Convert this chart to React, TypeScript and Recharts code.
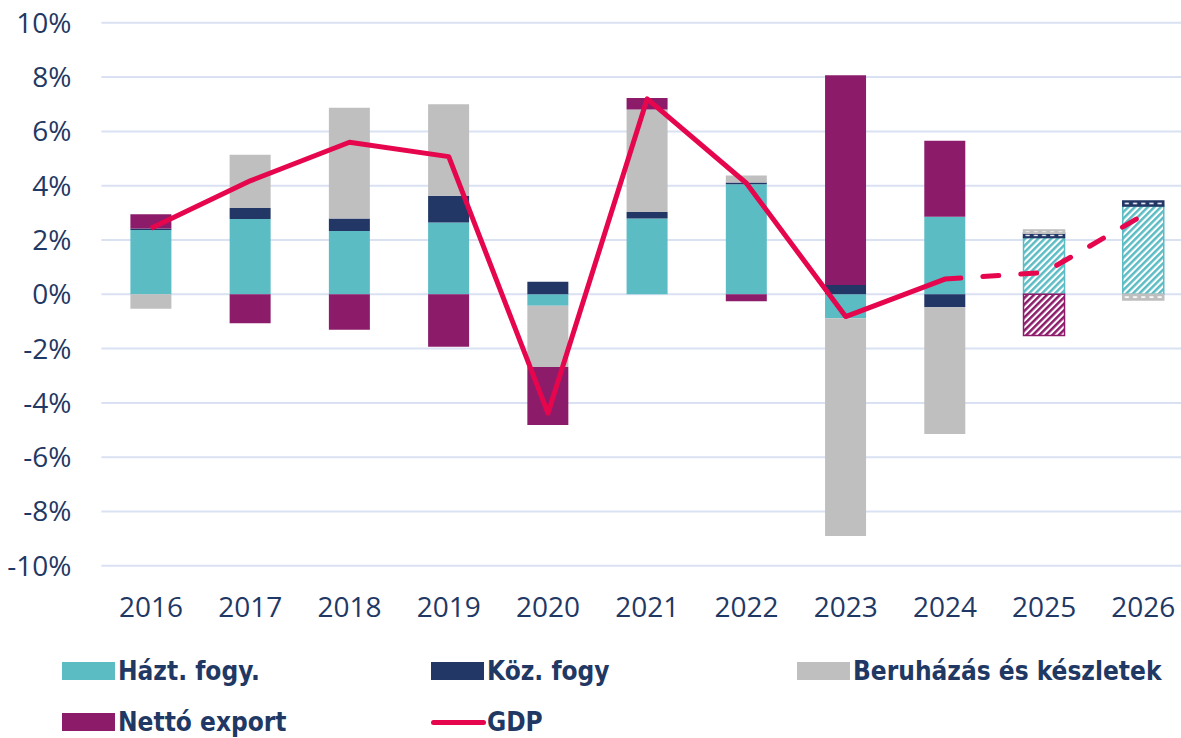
import React from "react";
import {
  ComposedChart,
  Bar,
  Line,
  XAxis,
  YAxis,
  CartesianGrid,
  Cell,
} from "recharts";

// ─── Data (percentage points) ─────────────────────────────────────────────────

const years = ["2016", "2017", "2018", "2019", "2020", "2021", "2022", "2023", "2024", "2025", "2026"];
const forecastYears = ["2025", "2026"];

const haztFogy = [2.37, 2.77, 2.33, 2.64, -0.42, 2.79, 4.05, -0.88, 2.86, 2.09, 3.25];
const kozFogy = [0.05, 0.41, 0.46, 0.99, 0.46, 0.24, 0.07, 0.34, -0.48, 0.16, 0.19];
const beruhazas = [-0.53, 1.96, 4.08, 3.37, -2.26, 3.78, 0.26, -8.02, -4.67, 0.12, -0.21];
const nettoExport = [0.53, -1.07, -1.31, -1.93, -2.13, 0.42, -0.26, 7.73, 2.8, -1.52, 0];
const gdpActual = [2.43, 4.18, 5.6, 5.07, -4.38, 7.2, 4.09, -0.82, 0.56, null, null];
const gdpForecast = [null, null, null, null, null, null, null, null, 0.56, 0.8, 2.92];

const yTicks = [-10, -8, -6, -4, -2, 0, 2, 4, 6, 8, 10];

const data = years.map((year, i) => ({
  year,
  hazt: haztFogy[i],
  koz: kozFogy[i],
  beru: beruhazas[i],
  netto: nettoExport[i],
  gdp: gdpActual[i],
  gdpF: gdpForecast[i],
}));

// ─── Styling ──────────────────────────────────────────────────────────────────

const TEAL = "#5BBCC4";
const NAVY = "#223766";
const GRAY = "#BFBFBF";
const PURPLE = "#8C1C6A";
const RED = "#E6064E";
const TEXT = "#1F3864";

const series = [
  { key: "hazt", color: TEAL, pat: "hatchTeal", kind: "diag" },
  { key: "koz", color: NAVY, pat: "hatchNavy", kind: "dash" },
  { key: "beru", color: GRAY, pat: "hatchGray", kind: "dash" },
  { key: "netto", color: PURPLE, pat: "hatchPurple", kind: "diag" },
];

// diagonal stripes for the big forecast segments
function Hatch({ id, color }: { id: string; color: string }) {
  return (
    <pattern id={id} patternUnits="userSpaceOnUse" width="4.6" height="4.6" patternTransform="rotate(45)">
      <rect width="4.6" height="4.6" fill="#fff" />
      <rect width="2.5" height="4.6" fill={color} />
    </pattern>
  );
}

// solid with white dashes through the middle, for the thin forecast segments
function DashFill({ id, color }: { id: string; color: string }) {
  return (
    <pattern id={id} patternUnits="objectBoundingBox" patternContentUnits="objectBoundingBox" width="0.2" height="1">
      <rect width="0.2" height="1" fill={color} />
      <rect x="0.05" y="0.35" width="0.1" height="0.3" fill="#fff" />
    </pattern>
  );
}

const legendFont: React.CSSProperties = {
  fontFamily: "'DejaVu Sans Condensed', 'DejaVu Sans', sans-serif",
  fontStretch: "condensed",
  fontWeight: 700,
  fontSize: 26,
  color: TEXT,
  position: "absolute",
  whiteSpace: "nowrap",
  lineHeight: "30px",
};

function LegendItem({ x, y, color, label, line }: { x: number; y: number; color: string; label: string; line?: boolean }) {
  return (
    <>
      {line ? (
        <div style={{ position: "absolute", left: x, top: y - 2.5, width: 55, height: 5, borderRadius: 3, background: color }} />
      ) : (
        <div style={{ position: "absolute", left: x, top: y - 9, width: 53, height: 18, background: color }} />
      )}
      <div style={{ ...legendFont, left: x + 56, top: y - 15 }}>{label}</div>
    </>
  );
}

export default function App() {
  return (
    <div style={{ position: "absolute", left: 0, top: 0, width: 1181, height: 738, overflow: "hidden", background: "#fff" }}>
      <ComposedChart
        width={1193}
        height={650}
        data={data}
        stackOffset="sign"
        margin={{ top: 22.8, right: 0, bottom: 24.2, left: 0 }}
        barSize={41}
      >
        <defs>
          {series.map((s) =>
            s.kind === "diag" ? (
              <Hatch key={s.pat} id={s.pat} color={s.color} />
            ) : (
              <DashFill key={s.pat} id={s.pat} color={s.color} />
            )
          )}
        </defs>
        <CartesianGrid vertical={false} stroke="#D9E1F2" strokeWidth={2} />
        <XAxis
          dataKey="year"
          height={60}
          axisLine={false}
          tickLine={false}
          tickSize={6}
          tickMargin={25}
          interval={0}
          tick={{ fontFamily: "'Open Sans', sans-serif", fontSize: 28, fill: TEXT }}
        />
        <YAxis
          width={101.4}
          domain={[-10, 10]}
          ticks={yTicks}
          interval={0}
          axisLine={false}
          tickLine={false}
          tickSize={6}
          tickMargin={24}
          tickFormatter={(v: number) => `${v}%`}
          tick={{ fontFamily: "'Open Sans', sans-serif", fontSize: 28, fill: TEXT }}
        />
        {series.map((s) => (
          <Bar key={s.key} dataKey={s.key} stackId="a" fill={s.color} isAnimationActive={false}>
            {years.map((y) =>
              forecastYears.includes(y) ? (
                <Cell key={y} fill={`url(#${s.pat})`} stroke={s.color} strokeWidth={1.5} />
              ) : (
                <Cell key={y} fill={s.color} />
              )
            )}
          </Bar>
        ))}
        <Line
          dataKey="gdp"
          stroke={RED}
          strokeWidth={5}
          dot={false}
          strokeLinejoin="round"
          connectNulls={false}
          isAnimationActive={false}
        />
        <Line
          dataKey="gdpF"
          stroke={RED}
          strokeWidth={5}
          strokeDasharray="16 22"
          strokeLinecap="round"
          dot={false}
          isAnimationActive={false}
        />
      </ComposedChart>

      {/* Legend */}
      <LegendItem x={62} y={671} color={TEAL} label="Házt. fogy." />
      <LegendItem x={431} y={671} color={NAVY} label="Köz. fogy" />
      <LegendItem x={797} y={671} color={GRAY} label="Beruházás és készletek" />
      <LegendItem x={62} y={722} color={PURPLE} label="Nettó export" />
      <LegendItem x={431} y={722} color={RED} label="GDP" line />
    </div>
  );
}
